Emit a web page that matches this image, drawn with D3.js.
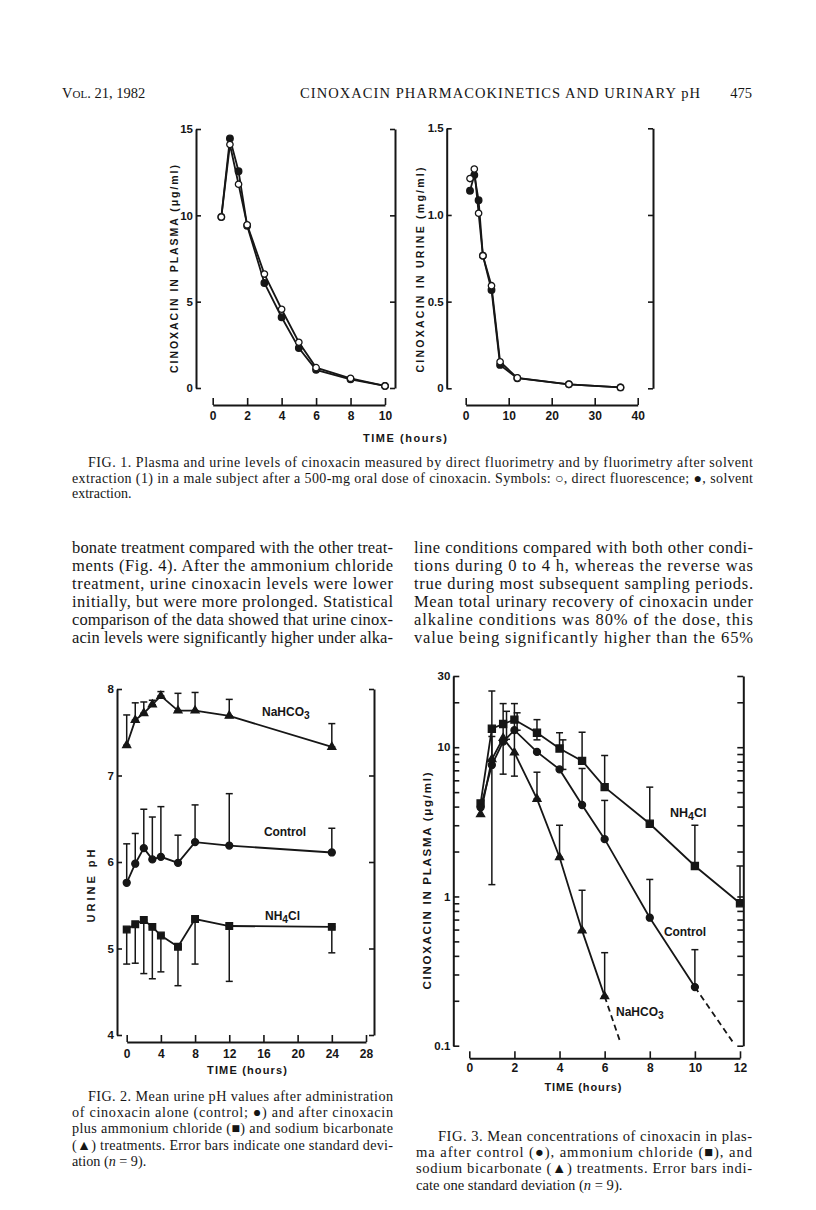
<!DOCTYPE html>
<html><head><meta charset="utf-8">
<script src="https://cdn.jsdelivr.net/npm/d3@7"></script>
<style>body{margin:0;background:#fff}svg{display:block}</style>
</head><body><script>
// ---------------- DATA ----------------
// Fig. 1 (plasma)
const fig1PlasmaTime    = [0.5, 1, 1.5, 2, 3, 4, 5, 6, 8, 10];
const fig1PlasmaDirect  = [9.9, 14.1, 11.8, 9.45, 6.6, 4.56, 2.65, 1.18, 0.56, 0.12];
const fig1PlasmaSolvent = [9.9, 14.45, 12.55, 9.4, 6.08, 4.1, 2.32, 1.05, 0.5, 0.12];
const fig1PlasmaTicks   = [0, 5, 10, 15];
const fig1PlasmaTimeTicks = [0, 2, 4, 6, 8, 10];
// Fig. 1 (urine)
const fig1UrineTime    = [1, 2, 3, 4, 6, 8, 12, 24, 36];
const fig1UrineDirect  = [1.21, 1.265, 1.01, 0.765, 0.592, 0.153, 0.06, 0.023, 0.005];
const fig1UrineSolvent = [1.14, 1.23, 1.085, 0.765, 0.567, 0.135, 0.058, 0.023, 0.005];
const fig1UrineTicks   = [0, 0.5, 1.0, 1.5];
const fig1UrineTickLabels = ["0", "0.5", "1.0", "1.5"];
const fig1UrineTimeTicks = [0, 10, 20, 30, 40];
// Fig. 2 (urine pH)
const fig2Time       = [0, 1, 2, 3, 4, 6, 8, 12, 24];
const fig2NaHCO3     = [7.35, 7.64, 7.72, 7.82, 7.92, 7.75, 7.75, 7.69, 7.33];
const fig2NaHCO3High = [7.70, 7.84, 7.85, 7.87, 7.97, 7.95, 7.96, 7.88, 7.60];
const fig2Control    = [5.76, 5.98, 6.16, 6.03, 6.06, 5.99, 6.23, 6.19, 6.11];
const fig2ControlHigh= [6.21, 6.33, 6.61, 6.52, 6.64, 6.31, 6.66, 6.79, 6.39];
const fig2NH4Cl      = [5.22, 5.28, 5.33, 5.25, 5.15, 5.02, 5.34, 5.26, 5.25];
const fig2NH4ClLow   = [4.82, 4.83, 4.71, 4.65, 4.73, 4.57, 4.82, 4.62, 4.95];
const fig2PHTicks    = [4, 5, 6, 7, 8];
const fig2TimeTicks  = [0, 4, 8, 12, 16, 20, 24, 28];
// Fig. 3 (plasma, log scale)
const fig3TimeNH4Cl   = [0.5, 1, 1.5, 2, 3, 4, 5, 6, 8, 10, 12];
const fig3NH4Cl       = [4.2, 13.3, 14.3, 15.3, 12.5, 9.8, 8.1, 5.4, 3.07, 1.6, 0.9];
const fig3TimeControl = [0.5, 1, 1.5, 2, 3, 4, 5, 6, 8, 10];
const fig3Control     = [3.95, 7.6, 10.9, 13.0, 9.3, 7.1, 4.1, 2.42, 0.72, 0.247];
const fig3TimeNaHCO3  = [0.5, 1, 1.5, 2, 3, 4, 5, 6];
const fig3NaHCO3      = [3.55, 8.3, 11.5, 9.2, 4.5, 1.83, 0.59, 0.214];
const fig3ErrTime = [1, 1, 1.5, 1.65, 2, 2.12, 3, 3, 4, 4.15, 4, 5, 5, 5, 6, 6, 6, 8, 8, 10, 10, 12];
const fig3ErrLow  = [1.2, 8.3, 6.6, 11.3, 6.4, 13.0, 11.2, 4.5, 9.8, 7.1, 1.83, 8.1, 4.1, 0.59, 5.4, 2.42, 0.214, 3.07, 0.72, 1.6, 0.247, 0.9];
const fig3ErrHigh = [23.8, 11.8, 19.6, 17.4, 19.6, 17.0, 15.3, 6.8, 12.5, 11.2, 3.0, 12.6, 7.2, 1.1, 8.8, 4.4, 0.42, 5.4, 1.3, 3.0, 0.44, 1.6];
const fig3DashTimeControl = [10, 11.7];
const fig3DashControl     = [0.247, 0.105];
const fig3DashTimeNaHCO3  = [6, 6.7];
const fig3DashNaHCO3      = [0.214, 0.105];
const fig3Ticks = [0.1,0.2,0.3,0.4,0.5,0.6,0.7,0.8,0.9,1,2,3,4,5,6,7,8,9,10,20,30];
const fig3TickLabels = ["0.1", "1", "10", "30"];
const fig3TimeTicks = [0, 2, 4, 6, 8, 10, 12];

// ---------------- TEXT ----------------
const headerTitle = "CINOXACIN PHARMACOKINETICS AND URINARY pH";
const headerPage = "475";
const fig1Caption = [
  "FIG. 1. Plasma and urine levels of cinoxacin measured by direct fluorimetry and by fluorimetry after solvent",
  "extraction (1) in a male subject after a 500-mg oral dose of cinoxacin. Symbols: \u25CB, direct fluorescence; \u25CF, solvent",
  "extraction."];
const bodyLeft = [
  "bonate treatment compared with the other treat-",
  "ments (Fig. 4). After the ammonium chloride",
  "treatment, urine cinoxacin levels were lower",
  "initially, but were more prolonged. Statistical",
  "comparison of the data showed that urine cinox-",
  "acin levels were significantly higher under alka-"];
const bodyRight = [
  "line conditions compared with both other condi-",
  "tions during 0 to 4 h, whereas the reverse was",
  "true during most subsequent sampling periods.",
  "Mean total urinary recovery of cinoxacin under",
  "alkaline conditions was 80% of the dose, this",
  "value being significantly higher than the 65%"];
const fig2Caption = [
  "FIG. 2. Mean urine pH values after administration",
  "of cinoxacin alone (control; \u25CF) and after cinoxacin",
  "plus ammonium chloride (\u25A0) and sodium bicarbonate",
  "(\u25B2) treatments. Error bars indicate one standard devi-",
  "ation (|n| = 9)."];
const fig3Caption = [
  "FIG. 3. Mean concentrations of cinoxacin in plas-",
  "ma after control (\u25CF), ammonium chloride (\u25A0), and",
  "sodium bicarbonate (\u25B2) treatments. Error bars indi-",
  "cate one standard deviation (|n| = 9)."];

// ---------------- DRAW ----------------
const ink = "#161616";
const sansB = "'Liberation Sans', Arial, sans-serif";
const serif = "'Liberation Serif', 'Times New Roman', serif";
const svg = d3.select("body").append("svg").attr("width", 816).attr("height", 1210);
svg.append("rect").attr("width", 816).attr("height", 1210).attr("fill", "#fff");

function styleAxis(g, fs) {
  g.selectAll(".domain").attr("stroke", ink).attr("stroke-width", 2);
  g.selectAll(".tick line").attr("stroke", ink).attr("stroke-width", 1.6);
  g.selectAll(".tick text").attr("fill", ink).attr("font-family", sansB)
    .attr("font-weight", "bold").attr("font-size", fs || 11.5);
}
function yFrame(y, ticks, fmt, leftX, rightX, len, pad) {
  const gl = svg.append("g").attr("transform", `translate(${leftX},0)`)
    .call(d3.axisLeft(y).tickValues(ticks).tickSize(-len).tickSizeOuter(0).tickPadding(pad || 3).tickFormat(fmt));
  styleAxis(gl);
  const gr = svg.append("g").attr("transform", `translate(${rightX},0)`)
    .call(d3.axisRight(y).tickValues(ticks).tickSize(-len).tickSizeOuter(0).tickFormat(""));
  styleAxis(gr);
  return [gl, gr];
}
function xAxis(x, ticks, yPos, pad) {
  const g = svg.append("g").attr("transform", `translate(0,${yPos})`)
    .call(d3.axisBottom(x).tickValues(ticks).tickSize(-7).tickSizeOuter(0).tickPadding(pad).tickFormat(d3.format("d")));
  styleAxis(g, 12);
  return g;
}
function line(x, y, ts, vs, dash) {
  const p = svg.append("path").datum(ts.map((t, i) => [t, vs[i]]))
    .attr("d", d3.line().x(d => x(d[0])).y(d => y(d[1])))
    .attr("fill", "none").attr("stroke", ink).attr("stroke-width", 1.8);
  if (dash) p.attr("stroke-dasharray", dash);
}
function marks(x, y, ts, vs, type, size, fill) {
  svg.append("g").selectAll("path").data(ts.map((t, i) => [t, vs[i]])).join("path")
    .attr("transform", d => `translate(${x(d[0])},${y(d[1])})`)
    .attr("d", d3.symbol().type(type).size(size))
    .attr("fill", fill).attr("stroke", ink).attr("stroke-width", 1.3);
}
function errBars(x, y, ts, lo, hi) {
  const g = svg.append("g").attr("stroke", ink).attr("stroke-width", 1.5);
  ts.forEach((t, i) => {
    const X = x(t);
    g.append("line").attr("x1", X).attr("x2", X).attr("y1", y(lo[i])).attr("y2", y(hi[i]));
    g.append("line").attr("x1", X - 3.5).attr("x2", X + 3.5).attr("y1", y(lo[i])).attr("y2", y(lo[i]));
    g.append("line").attr("x1", X - 3.5).attr("x2", X + 3.5).attr("y1", y(hi[i])).attr("y2", y(hi[i]));
  });
}
function vLabel(txt, x, yc, len, fs) {
  svg.append("text").attr("transform", `translate(${x},${yc}) rotate(-90)`)
    .attr("text-anchor", "middle").attr("dominant-baseline", "central")
    .attr("font-family", sansB).attr("font-weight", "bold").attr("font-size", fs || 11)
    .attr("fill", ink).attr("textLength", len).attr("lengthAdjust", "spacing").text(txt);
}
function hLabel(txt, x, y, len, fs) {
  const t = svg.append("text").attr("x", x).attr("y", y).attr("text-anchor", "middle")
    .attr("dominant-baseline", "central").attr("font-family", sansB).attr("font-weight", "bold")
    .attr("font-size", fs || 11).attr("fill", ink);
  if (len) t.attr("textLength", len).attr("lengthAdjust", "spacing");
  t.text(txt);
}
function chemLabel(base, sub, rest, x, y, fs) {
  const t = svg.append("text").attr("x", x).attr("y", y).attr("font-family", sansB)
    .attr("font-weight", "bold").attr("font-size", fs).attr("fill", ink);
  t.append("tspan").text(base);
  t.append("tspan").attr("dy", 3).attr("font-size", fs * 0.85).text(sub);
  if (rest) t.append("tspan").attr("dy", -3).text(rest);
}

// ---- Fig 1 left
{
  const x = d3.scaleLinear().domain([0, 10]).range([212.7, 385]);
  const y = d3.scaleLinear().domain([0, 15]).range([388, 129]);
  yFrame(y, fig1PlasmaTicks, d3.format("d"), 196, 395, 5);
  xAxis(x, fig1PlasmaTimeTicks, 405, 6);
  line(x, y, fig1PlasmaTime, fig1PlasmaSolvent);
  line(x, y, fig1PlasmaTime, fig1PlasmaDirect);
  marks(x, y, fig1PlasmaTime, fig1PlasmaSolvent, d3.symbolCircle, 34, ink);
  marks(x, y, fig1PlasmaTime, fig1PlasmaDirect, d3.symbolCircle, 32, "#fff");
  vLabel("CINOXACIN  IN  PLASMA  (\u03BCg/ml)", 174, 269, 208, 10.5);
}
// ---- Fig 1 right
{
  const x = d3.scaleLinear().domain([0, 40]).range([465.7, 637.7]);
  const y = d3.scaleLinear().domain([0, 1.5]).range([388.3, 128.3]);
  yFrame(y, fig1UrineTicks, (d, i) => fig1UrineTickLabels[i], 446.7, 653, 5);
  xAxis(x, fig1UrineTimeTicks, 405, 6);
  line(x, y, fig1UrineTime, fig1UrineSolvent);
  line(x, y, fig1UrineTime, fig1UrineDirect);
  marks(x, y, fig1UrineTime, fig1UrineSolvent, d3.symbolCircle, 34, ink);
  marks(x, y, fig1UrineTime, fig1UrineDirect, d3.symbolCircle, 32, "#fff");
  vLabel("CINOXACIN  IN  URINE  (mg/ml)", 420, 270, 205, 10.5);
  hLabel("TIME  (hours)", 405, 438, 84, 11);
}
// ---- Fig 2
{
  const x = d3.scaleLinear().domain([0, 28]).range([126.7, 366]);
  const y = d3.scaleLinear().domain([4, 8]).range([1035, 689]);
  yFrame(y, fig2PHTicks, d3.format("d"), 117, 374, 5);
  xAxis(x, fig2TimeTicks, 1042, 7);
  errBars(x, y, fig2Time, fig2NaHCO3, fig2NaHCO3High);
  errBars(x, y, fig2Time, fig2Control, fig2ControlHigh);
  errBars(x, y, fig2Time, fig2NH4ClLow, fig2NH4Cl);
  line(x, y, fig2Time, fig2NaHCO3);
  line(x, y, fig2Time, fig2Control);
  line(x, y, fig2Time, fig2NH4Cl);
  marks(x, y, fig2Time, fig2NaHCO3, d3.symbolTriangle, 28, ink);
  marks(x, y, fig2Time, fig2Control, d3.symbolCircle, 38, ink);
  marks(x, y, fig2Time, fig2NH4Cl, d3.symbolSquare, 44, ink);
  vLabel("URINE  pH", 91, 886, 73, 11);
  hLabel("TIME  (hours)", 247, 1070, 80, 11);
  chemLabel("NaHCO", "3", "", 262, 716, 12);
  hLabel("Control", 285, 832, 42, 12);
  chemLabel("NH", "4", "Cl", 265, 920, 12);
}
// ---- Fig 3
{
  const x = d3.scaleLinear().domain([0, 12]).range([469.3, 740]);
  const y = d3.scaleLog().domain([0.1, 30]).range([1045.7, 676]);
  yFrame(y, fig3Ticks, d => fig3TickLabels.includes(String(d)) ? String(d) : "", 453.3, 743.3, 6);
  xAxis(x, fig3TimeTicks, 1058.3, 5);
  errBars(x, y, fig3ErrTime, fig3ErrLow, fig3ErrHigh);
  line(x, y, fig3TimeNH4Cl, fig3NH4Cl);
  line(x, y, fig3TimeControl, fig3Control);
  line(x, y, fig3TimeNaHCO3, fig3NaHCO3);
  line(x, y, fig3DashTimeControl, fig3DashControl, "6,4");
  line(x, y, fig3DashTimeNaHCO3, fig3DashNaHCO3, "6,4");
  marks(x, y, fig3TimeNH4Cl, fig3NH4Cl, d3.symbolSquare, 50, ink);
  marks(x, y, fig3TimeControl, fig3Control, d3.symbolCircle, 38, ink);
  marks(x, y, fig3TimeNaHCO3, fig3NaHCO3, d3.symbolTriangle, 28, ink);
  vLabel("CINOXACIN  IN  PLASMA  (\u03BCg/ml)", 427, 881, 217, 11.5);
  hLabel("TIME (hours)", 583, 1086.5, 77, 11);
  chemLabel("NH", "4", "Cl", 670, 817, 12.5);
  hLabel("Control", 685, 932, 42, 12);
  chemLabel("NaHCO", "3", "", 616, 1016, 12);
}

// ---- page text
function tline(str, x, y, fs, len, anchor) {
  const t = svg.append("text").attr("x", x).attr("y", y).attr("font-family", serif)
    .attr("font-size", fs).attr("fill", ink);
  if (anchor) t.attr("text-anchor", anchor);
  if (len) t.attr("textLength", len).attr("lengthAdjust", "spacing");
  // segments between | | are set in italics
  str.split("|").forEach((seg, k) => {
    const sp = t.append("tspan").text(seg);
    if (k % 2 === 1) sp.attr("font-style", "italic");
  });
  return t;
}
{
  const h = svg.append("text").attr("x", 62).attr("y", 98).attr("font-family", serif)
    .attr("font-size", 14.5).attr("fill", ink);
  h.append("tspan").text("V");
  h.append("tspan").attr("font-size", 11).text("OL");
  h.append("tspan").text(". 21, 1982");
  tline(headerTitle, 300, 98, 14.5, 400);
  tline(headerPage, 752, 98, 14.5, null, "end");
}
fig1Caption.forEach((s, i) => {
  const x0 = i === 0 ? 88 : 72;
  tline(s, x0, 467 + i * 15.5, 14, i < 2 ? 753 - x0 : null);
});
bodyLeft.forEach((s, i) => tline(s, 72, 553 + i * 18, 16.5, 393 - 72));
bodyRight.forEach((s, i) => tline(s, 414, 553 + i * 18, 16.5, 753 - 414));
fig2Caption.forEach((s, i) => {
  const x0 = i === 0 ? 88 : 72;
  tline(s, x0, 1101 + i * 16.2, 14.2, i < 4 ? 393 - x0 : null);
});
fig3Caption.forEach((s, i) => {
  const x0 = i === 0 ? 438 : 416;
  tline(s, x0, 1141 + i * 16.2, 14.6, i < 3 ? 752 - x0 : null);
});
</script></body></html>
